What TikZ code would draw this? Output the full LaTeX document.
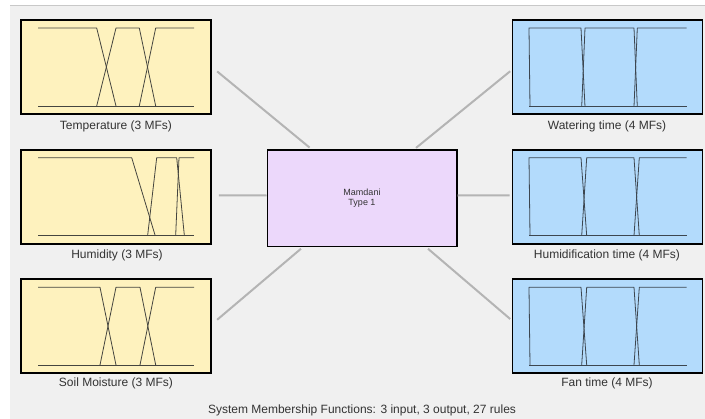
\documentclass[tikz,border=0pt]{standalone}
\usepackage{fontspec}
\setmainfont{Liberation Sans}
\usetikzlibrary{calc}
\definecolor{bgc}{HTML}{F0F0F0}
\definecolor{topline}{HTML}{C8C8C8}
\definecolor{yel}{HTML}{FEF2BE}
\definecolor{blu}{HTML}{B3DBFC}
\definecolor{pur}{HTML}{ECD8FB}
\definecolor{conn}{HTML}{B4B4B4}
\definecolor{mfc}{HTML}{45453F}
\definecolor{mfb}{HTML}{3C4650}
\definecolor{txt}{HTML}{333333}
\tikzset{
  mfbox/.style={draw=black, line width=1.6pt, inner sep=0pt, minimum width=190pt, minimum height=94pt},
  inbox/.style={mfbox, fill=yel},
  outbox/.style={mfbox, fill=blu},
  sysbox/.style={draw=black, line width=1.6pt, inner sep=0pt, fill=pur, minimum width=189.4pt, minimum height=96.7pt, font=\fontsize{9}{10.7}\selectfont, text=txt, align=center},
  lbl/.style={font=\fontsize{12}{14}\selectfont, text=txt, inner sep=0pt},
  link/.style={draw=conn, line width=2pt},
  mfline/.style={draw=mfc, line width=0.8pt, line join=round},
  mfblue/.style={draw=mfb, line width=0.8pt, line join=round}
}
\begin{document}
\begin{tikzpicture}[x=1pt, y=-1pt]
\useasboundingbox (0,0) rectangle (705,419);
\fill[white] (0,0) rectangle (705,419);
\fill[bgc] (10,6) rectangle (705,419);
\draw[topline, line width=1pt] (10,6) -- (705,6);

% boxes
\node[inbox] (temp) at (116,67) {};
\node[inbox] (hum) at (116,197) {};
\node[inbox] (soil) at (116,326.3) {};
\node[outbox] (water) at (607.5,67) {};
\node[outbox] (humt) at (607.5,197) {};
\node[outbox] (fan) at (607.5,326.3) {};
\node[sysbox] (mid) at (362,198.3) {Mamdani\\Type 1};

% connectors
\draw[link, shorten <=7pt, shorten >=2.5pt] (temp.east) -- ($(mid.north west)+(45,0)$);
\draw[link, shorten <=7pt] ($(hum.east)+(0,-1.5)$) -- ($(mid.west)+(0,-3)$);
\draw[link, shorten <=7pt, shorten >=2pt] ($(soil.east)+(0,-2)$) -- ($(mid.south west)+(36,0)$);
\draw[link, shorten <=2pt, shorten >=2pt] ($(mid.north west)+(148,0)$) -- ($(water.west)+(0,3)$);
\draw[link, shorten >=2pt] ($(mid.east)+(0,-3)$) -- ($(humt.west)+(0,-1.5)$);
\draw[link, shorten <=2pt, shorten >=2pt] ($(mid.south west)+(160,0)$) -- ($(fan.west)+(0,-6)$);

% labels
\node[lbl] (templ) at (116,126) {Temperature (3 MFs)};
\node[lbl] (huml) at (117,255) {Humidity (3 MFs)};
\node[lbl] (soill) at (116,383) {Soil Moisture (3 MFs)};
\node[lbl] (waterl) at (607,126.7) {Watering time (4 MFs)};
\node[lbl] (humtl) at (607,255) {Humidification time (4 MFs)};
\node[lbl] (fanl) at (607,383.3) {Fan time (4 MFs)};
\node[lbl] (sysl) at (362,410.7) {System Membership Functions: 3 input, 3 output, 27 rules};

% Temperature MFs
\draw[mfline] (38,106) -- (194,106);
\draw[mfline] (38,28) -- (96.7,28) -- (116,106);
\draw[mfline] (96.7,106) -- (116,28) -- (139.3,28) -- (155.7,106);
\draw[mfline] (139.3,106) -- (155.7,28) -- (194,28);
% Humidity MFs
\draw[mfline] (38,235) -- (194,235);
\draw[mfline] (38,157.7) -- (131.7,157.7) -- (155,235);
\draw[mfline] (147.7,235) -- (156.7,157.7) -- (176.7,157.7) -- (184.3,235);
\draw[mfline] (175.7,235) -- (179,157.7) -- (194,157.7);
% Soil Moisture MFs
\draw[mfline] (38,365) -- (194,365);
\draw[mfline] (38,287.3) -- (100,287.3) -- (116,365);
\draw[mfline] (100,365) -- (116,287.3) -- (140,287.3) -- (155.7,365);
\draw[mfline] (140,365) -- (155.7,287.3) -- (194,287.3);

% Watering time MFs
\draw[mfblue] (529,106.7) -- (686.7,106.7);
\draw[mfblue] (530,106.7) -- (529,28) -- (581,28) -- (585,106.7);
\draw[mfblue] (581.7,106.7) -- (585,28) -- (634,28) -- (637.3,106.7);
\draw[mfblue] (634,106.7) -- (637.3,28) -- (686.7,28);
% Humidification time MFs
\draw[mfblue] (529,235.7) -- (686.7,235.7);
\draw[mfblue] (530,235.7) -- (529,157.7) -- (581,157.7) -- (586.7,235.7);
\draw[mfblue] (581.7,235.7) -- (586.7,157.7) -- (634,157.7) -- (639.3,235.7);
\draw[mfblue] (634,235.7) -- (639.3,157.7) -- (686.7,157.7);
% Fan time MFs
\draw[mfblue] (529,365) -- (686.7,365);
\draw[mfblue] (530,365) -- (529,287.3) -- (581,287.3) -- (586.7,365);
\draw[mfblue] (581.7,365) -- (586.7,287.3) -- (634,287.3) -- (639.3,365);
\draw[mfblue] (634,365) -- (639.3,287.3) -- (686.7,287.3);
\end{tikzpicture}
\end{document}
